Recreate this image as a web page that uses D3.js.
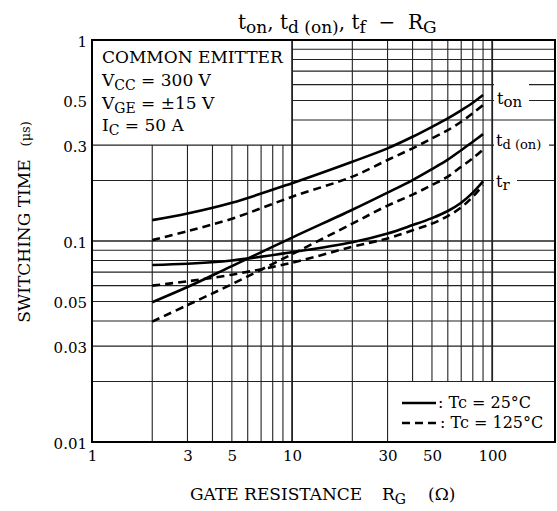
<!DOCTYPE html>
<html>
<head>
<meta charset="utf-8">
<script src="https://cdn.jsdelivr.net/npm/d3@7"></script>
<style>
body { margin: 0; background: #fff; }
text { font-family: "DejaVu Serif", serif; fill: #000; }
</style>
</head>
<body>
<script>
// valeurs (RG en ohms, temps en µs)
const rg = [2, 3, 5, 10, 20, 30, 40, 50, 60, 70, 80, 90];
const ton25 = [0.127, 0.137, 0.155, 0.194, 0.248, 0.289, 0.330, 0.370, 0.408, 0.447, 0.487, 0.532];
const ton125 = [0.101, 0.112, 0.129, 0.166, 0.209, 0.253, 0.289, 0.324, 0.356, 0.392, 0.432, 0.475];
const td25 = [0.0496, 0.059, 0.075, 0.104, 0.143, 0.174, 0.201, 0.228, 0.254, 0.283, 0.312, 0.340];
const td125 = [0.0397, 0.048, 0.061, 0.086, 0.122, 0.150, 0.170, 0.190, 0.209, 0.234, 0.258, 0.285];
const tr25 = [0.076, 0.077, 0.080, 0.088, 0.0986, 0.109, 0.120, 0.130, 0.141, 0.155, 0.174, 0.198];
const tr125 = [0.060, 0.063, 0.068, 0.078, 0.0937, 0.103, 0.113, 0.122, 0.133, 0.147, 0.166, 0.190];

const xTicks = [1, 3, 5, 10, 30, 50, 100];
const yTicks = [0.01, 0.03, 0.05, 0.1, 0.3, 0.5, 1];
const xGrid = [2, 3, 4, 5, 6, 7, 8, 9, 10, 20, 30, 40, 50, 60, 70, 80, 90, 100];
const yGrid = [0.02, 0.03, 0.04, 0.05, 0.06, 0.07, 0.08, 0.09, 0.1,
               0.2, 0.3, 0.4, 0.5, 0.6, 0.7, 0.8, 0.9];
const legendLabels = [": Tc = 25°C", ": Tc = 125°C"];

const width = 557, height = 511;
const svg = d3.select("body").append("svg")
    .attr("width", width)
    .attr("height", height);

const x = d3.scaleLog().domain([1, 206]).range([92, 555]);
const y = d3.scaleLog().domain([0.01, 1]).range([442, 40]);
const right = x.range()[1];

// grille
const grid = svg.append("g").attr("stroke", "#222");
grid.selectAll(".v")
    .data(xGrid)
    .enter()
    .append("line")
    .attr("x1", d => x(d))
    .attr("x2", d => x(d))
    .attr("y1", d => d < 10 ? y(0.3) : y(1))
    .attr("y2", d => d >= 40 ? y(0.02) : y(0.01))
    .attr("stroke-width", d => (d === 10 || d === 100) ? 1.8 : 1.1);

grid.selectAll(".h")
    .data(yGrid)
    .enter()
    .append("line")
    .attr("x1", d => d > 0.3 ? x(10) : x(1))
    .attr("x2", right)
    .attr("y1", d => y(d))
    .attr("y2", d => y(d))
    .attr("stroke-width", d => d === 0.1 ? 1.5 : 1.1);

// fonds blancs des étiquettes à droite
svg.append("rect").attr("x", 494).attr("y", 75).attr("width", 35).attr("height", 42).attr("fill", "#fff");
svg.append("rect").attr("x", 494).attr("y", 124).attr("width", 55).attr("height", 40).attr("fill", "#fff");
svg.append("rect").attr("x", 494).attr("y", 166).attr("width", 23).attr("height", 32).attr("fill", "#fff");

// courbes
const line = d3.line()
    .x(d => x(d[0]))
    .y(d => y(d[1]))
    .curve(d3.curveCatmullRom.alpha(0.5));

const series = [
    { v: ton25, dash: null },
    { v: ton125, dash: "8,5" },
    { v: td25, dash: null },
    { v: td125, dash: "8,5" },
    { v: tr25, dash: null },
    { v: tr125, dash: "8,5" }
];

svg.selectAll(".curve")
    .data(series)
    .enter()
    .append("path")
    .attr("d", s => line(rg.map((r, i) => [r, s.v[i]])))
    .attr("fill", "none")
    .attr("stroke", "#000")
    .attr("stroke-width", 2.6)
    .attr("stroke-dasharray", s => s.dash);

// cadre
svg.append("rect")
    .attr("x", x(1))
    .attr("y", y(1))
    .attr("width", right - x(1))
    .attr("height", y(0.01) - y(1))
    .attr("fill", "none")
    .attr("stroke", "#000")
    .attr("stroke-width", 2);

// axes
const fmt = d => d3.format("~g")(d);
const yAxis = svg.append("g")
    .attr("transform", `translate(${x(1)},0)`)
    .call(d3.axisLeft(y).tickValues(yTicks).tickSize(0).tickPadding(5).tickFormat(fmt));
yAxis.select(".domain").remove();
yAxis.selectAll("text").attr("font-size", 15).attr("font-family", "DejaVu Serif").attr("dy", "0.4em");

const xAxis = svg.append("g")
    .attr("transform", `translate(0,${y(0.01)})`)
    .call(d3.axisBottom(x).tickValues(xTicks).tickSize(0).tickPadding(8).tickFormat(fmt));
xAxis.select(".domain").remove();
xAxis.selectAll("text").attr("font-size", 15).attr("font-family", "DejaVu Serif");

// titre
const title = svg.append("text").attr("x", 238).attr("y", 29).attr("font-size", 20);
title.append("tspan").text("t");
title.append("tspan").attr("font-size", 17).attr("dy", 4).text("on");
title.append("tspan").attr("dy", -4).text(", t");
title.append("tspan").attr("font-size", 17).attr("dy", 4).text("d (on)");
title.append("tspan").attr("dy", -4).text(", t");
title.append("tspan").attr("font-size", 17).attr("dy", 4).text("f");
title.append("tspan").attr("dy", -4).text("\u00a0 − \u00a0R");
title.append("tspan").attr("font-size", 17).attr("dy", 4).text("G");

// titres des axes
const xt = svg.append("text").attr("y", 500).attr("font-size", 17);
xt.append("tspan").attr("x", 190).text("GATE RESISTANCE");
xt.append("tspan").attr("x", 382).text("R");
xt.append("tspan").attr("font-size", 14).attr("dy", 4).text("G");
xt.append("tspan").attr("x", 428).attr("dy", -4).text("(Ω)");

const yt = svg.append("text")
    .attr("transform", "translate(30,222) rotate(-90)")
    .attr("text-anchor", "middle")
    .attr("font-size", 17);
yt.append("tspan").text("SWITCHING TIME");
yt.append("tspan").attr("dx", 13).attr("font-size", 13).text("(μs)");

// conditions
const cond = svg.append("g").attr("font-size", 17);
cond.append("text").attr("x", 102).attr("y", 63).text("COMMON EMITTER");
const c1 = cond.append("text").attr("x", 102).attr("y", 86);
c1.append("tspan").text("V");
c1.append("tspan").attr("font-size", 14).attr("dy", 4).text("CC");
c1.append("tspan").attr("dy", -4).text(" = 300 V");
const c2 = cond.append("text").attr("x", 102).attr("y", 109);
c2.append("tspan").text("V");
c2.append("tspan").attr("font-size", 14).attr("dy", 4).text("GE");
c2.append("tspan").attr("dy", -4).text(" = ±15 V");
const c3 = cond.append("text").attr("x", 102).attr("y", 131);
c3.append("tspan").text("I");
c3.append("tspan").attr("font-size", 14).attr("dy", 4).text("C");
c3.append("tspan").attr("dy", -4).text(" = 50 A");

// étiquettes des courbes
const l1 = svg.append("text").attr("x", 497).attr("y", 104).attr("font-size", 16);
l1.append("tspan").text("t");
l1.append("tspan").attr("font-size", 15).attr("dy", 3).text("on");
const l2 = svg.append("text").attr("x", 496).attr("y", 146).attr("font-size", 16);
l2.append("tspan").text("t");
l2.append("tspan").attr("font-size", 13).attr("dy", 3).text("d (on)");
const l3 = svg.append("text").attr("x", 496).attr("y", 187).attr("font-size", 16);
l3.append("tspan").text("t");
l3.append("tspan").attr("font-size", 15).attr("dy", 3).text("r");

// légende
const leg = svg.append("g");
leg.selectAll("line")
    .data(legendLabels)
    .enter()
    .append("line")
    .attr("x1", 402)
    .attr("x2", 436)
    .attr("y1", (d, i) => 403 + i * 20)
    .attr("y2", (d, i) => 403 + i * 20)
    .attr("stroke", "#000")
    .attr("stroke-width", 2.6)
    .attr("stroke-dasharray", (d, i) => i ? "8,5" : null);
leg.selectAll("text")
    .data(legendLabels)
    .enter()
    .append("text")
    .attr("x", (d, i) => i ? 440 : 438)
    .attr("y", (d, i) => 408 + i * 20)
    .attr("font-size", 16)
    .text(d => d);
</script>
</body>
</html>
